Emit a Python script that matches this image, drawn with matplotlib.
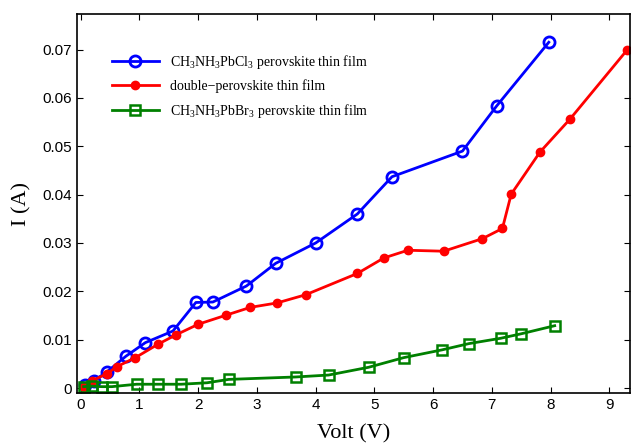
import matplotlib.pyplot as plt

plt.rcParams['mathtext.fontset'] = 'custom'
plt.rcParams['mathtext.rm'] = 'Liberation Serif'
plt.rcParams['mathtext.it'] = 'Liberation Serif:italic'

# CH3NH3PbCl3
cl_v = [0.08, 0.22, 0.45, 0.77, 1.10, 1.57, 1.96, 2.25, 2.82, 3.32, 4.0, 4.71, 5.3, 6.5, 7.08, 7.97]
cl_i = [0.0006, 0.0015, 0.0034, 0.0066, 0.0094, 0.0118, 0.0177, 0.0178, 0.0211, 0.0258,
        0.0300, 0.0360, 0.0437, 0.0490, 0.0583, 0.0715]

# double perovskite
dp_v = [0.05, 0.19, 0.45, 0.61, 0.93, 1.32, 1.62, 2.0, 2.48, 2.89, 3.34, 3.83, 4.71, 5.16,
        5.57, 6.18, 6.84, 7.18, 7.33, 7.82, 8.33, 9.31]
dp_i = [0.0003, 0.0015, 0.0030, 0.0044, 0.0063, 0.0091, 0.0110, 0.0132, 0.0151, 0.0167,
        0.0176, 0.0193, 0.0237, 0.0269, 0.0285, 0.0283, 0.0309, 0.0330, 0.0401, 0.0488,
        0.0556, 0.0700]

# CH3NH3PbBr3
br_v = [0.05, 0.19, 0.36, 0.53, 0.95, 1.32, 1.71, 2.15, 2.52, 3.66, 4.22, 4.9, 5.5, 6.15,
        6.61, 7.15, 7.49, 8.07]
br_i = [0.0003, 0.0004, 0.0003, 0.0003, 0.0008, 0.0008, 0.0008, 0.0011, 0.0018, 0.0023,
        0.0027, 0.0043, 0.0063, 0.0079, 0.0092, 0.0103, 0.0112, 0.0129]

fig = plt.figure(figsize=(6.33, 4.44), dpi=100)
ax = fig.add_axes([0.122, 0.115, 0.873, 0.853])

ax.plot(cl_v, cl_i, '-o', color='#0000ff', lw=2, ms=8, mfc='none', mew=2,
        label=r'CH$_3$NH$_3$PbCl$_3$ perovskite thin film')
ax.plot(dp_v, dp_i, '-o', color='#ff0000', lw=2, ms=6,
        label='double\u2212perovskite thin film')
ax.plot(br_v, br_i, '-s', color='#008000', lw=2, ms=7, mfc='none', mew=1.8,
        label=r'CH$_3$NH$_3$PbBr$_3$ perovskite thin film')

ax.set_xlim(-0.06, 9.35)
ax.set_ylim(-0.001, 0.0773)
ax.set_xticks(range(0, 10))
ax.set_yticks([0, 0.01, 0.02, 0.03, 0.04, 0.05, 0.06, 0.07])
ax.set_yticklabels(['0', '0.01', '0.02', '0.03', '0.04', '0.05', '0.06', '0.07'])
ax.tick_params(direction='in', top=True, right=True, labelsize=11, length=4)
for lab in ax.get_xticklabels() + ax.get_yticklabels():
    lab.set_fontfamily('Liberation Sans')
for s in ax.spines.values():
    s.set_linewidth(1.2)

ax.set_xlabel('Volt (V)', fontfamily='Liberation Serif', fontsize=16, labelpad=9)
ax.set_ylabel('I (A)', fontfamily='Liberation Serif', fontsize=16, labelpad=8)

ax.legend(loc='upper left', bbox_to_anchor=(0.04, 0.93), frameon=False,
          prop={'family': 'Liberation Serif', 'size': 10}, handlelength=3.4,
          labelspacing=0.6)

fig.savefig('out.png', dpi=100)
